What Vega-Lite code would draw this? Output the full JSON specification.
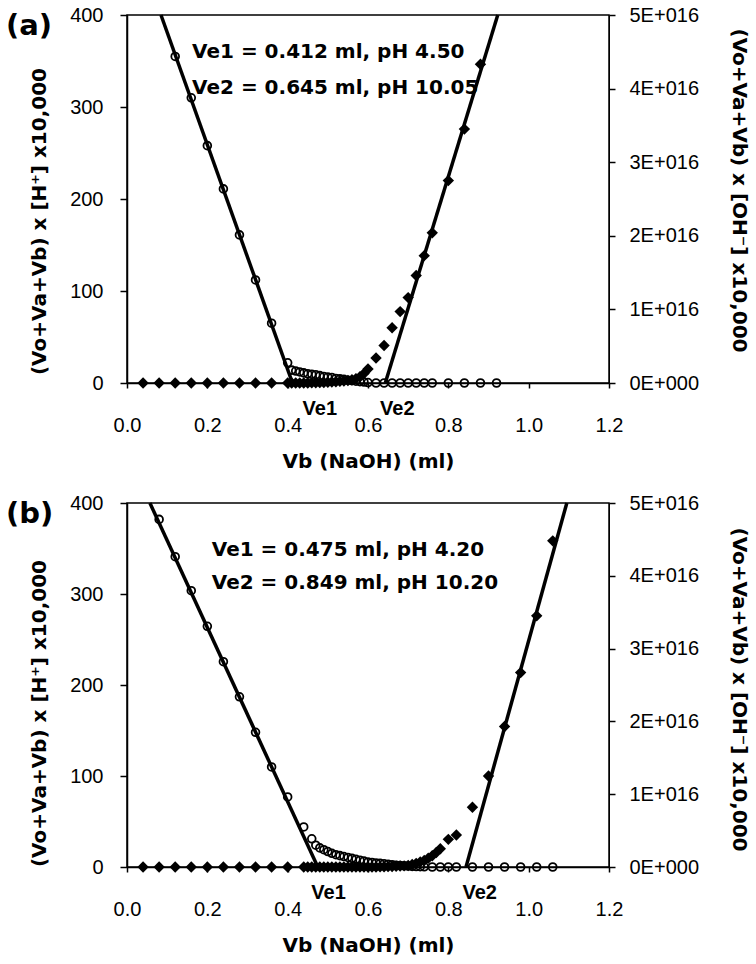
{
  "$schema": "https://vega.github.io/schema/vega-lite/v6.json",
  "background": "white",
  "padding": {"left": 5, "top": 4, "right": 5, "bottom": 0},
  "bounds": "flush",
  "spacing": 120,
  "config": {
    "view": {"stroke": "black", "strokeWidth": 1.5},
    "axis": {"grid": false, "domainColor": "black", "domainWidth": 1.5, "tickColor": "black", "tickWidth": 1.5, "labelColor": "black", "labelFont": "Liberation Sans", "labelFontSize": 20, "labelFlush": false, "labelOverlap": false, "titleColor": "black", "titleFont": "DejaVu Sans", "titleFontSize": 20, "titleFontWeight": "bold"},
    "title": {"font": "DejaVu Sans", "fontSize": 29, "fontWeight": "bold", "color": "black", "anchor": "start", "frame": "group", "offset": 0}
  },
  "datasets": {
    "a_h": [
      {"vb": 0.12, "val": 355}, {"vb": 0.16, "val": 310}, {"vb": 0.20, "val": 258}, {"vb": 0.24, "val": 211}, {"vb": 0.28, "val": 161}, {"vb": 0.32, "val": 112}, {"vb": 0.36, "val": 65}, {"vb": 0.40, "val": 22},
      {"vb": 0.41, "val": 14}, {"vb": 0.42, "val": 13}, {"vb": 0.43, "val": 12}, {"vb": 0.44, "val": 11}, {"vb": 0.45, "val": 10}, {"vb": 0.46, "val": 9.5}, {"vb": 0.47, "val": 9}, {"vb": 0.48, "val": 8}, {"vb": 0.49, "val": 7}, {"vb": 0.50, "val": 6.5},
      {"vb": 0.51, "val": 6}, {"vb": 0.52, "val": 5}, {"vb": 0.53, "val": 4.5}, {"vb": 0.54, "val": 4}, {"vb": 0.55, "val": 3}, {"vb": 0.56, "val": 2.5}, {"vb": 0.57, "val": 2}, {"vb": 0.58, "val": 1.5}, {"vb": 0.59, "val": 1}, {"vb": 0.60, "val": 0.5},
      {"vb": 0.62, "val": 0}, {"vb": 0.64, "val": 0}, {"vb": 0.66, "val": 0}, {"vb": 0.68, "val": 0}, {"vb": 0.70, "val": 0}, {"vb": 0.72, "val": 0}, {"vb": 0.74, "val": 0}, {"vb": 0.76, "val": 0}, {"vb": 0.80, "val": 0}, {"vb": 0.84, "val": 0}, {"vb": 0.88, "val": 0}, {"vb": 0.92, "val": 0}
    ],
    "a_oh": [
      {"vb": 0.04, "val": 0}, {"vb": 0.08, "val": 0}, {"vb": 0.12, "val": 0}, {"vb": 0.16, "val": 0}, {"vb": 0.20, "val": 0}, {"vb": 0.24, "val": 0}, {"vb": 0.28, "val": 0}, {"vb": 0.32, "val": 0}, {"vb": 0.36, "val": 0}, {"vb": 0.40, "val": 0},
      {"vb": 0.41, "val": 0}, {"vb": 0.42, "val": 0}, {"vb": 0.43, "val": 0}, {"vb": 0.44, "val": 0}, {"vb": 0.45, "val": 0}, {"vb": 0.46, "val": 2e13}, {"vb": 0.47, "val": 3e13}, {"vb": 0.48, "val": 5e13}, {"vb": 0.49, "val": 7e13}, {"vb": 0.50, "val": 1e14},
      {"vb": 0.51, "val": 1.3e14}, {"vb": 0.52, "val": 1.7e14}, {"vb": 0.53, "val": 2.2e14}, {"vb": 0.54, "val": 2.8e14}, {"vb": 0.55, "val": 3.5e14}, {"vb": 0.56, "val": 4.5e14}, {"vb": 0.57, "val": 6e14}, {"vb": 0.58, "val": 8.5e14}, {"vb": 0.59, "val": 1.3e15}, {"vb": 0.60, "val": 1.9e15},
      {"vb": 0.62, "val": 3.4e15}, {"vb": 0.64, "val": 5.1e15}, {"vb": 0.66, "val": 7.5e15}, {"vb": 0.68, "val": 9.7e15}, {"vb": 0.70, "val": 1.16e16}, {"vb": 0.72, "val": 1.46e16}, {"vb": 0.74, "val": 1.73e16}, {"vb": 0.76, "val": 2.04e16}, {"vb": 0.80, "val": 2.75e16}, {"vb": 0.84, "val": 3.45e16}, {"vb": 0.88, "val": 4.33e16}
    ],
    "a_lineL": [{"vb": 0.0846, "val": 400}, {"vb": 0.412, "val": 0}],
    "a_lineR": [{"vb": 0.643, "val": 0}, {"vb": 0.923, "val": 5e16}],
    "a_txt": [
      {"vb": 0.162, "val": 353, "label": "Ve1 = 0.412 ml, pH 4.50"},
      {"vb": 0.162, "val": 314, "label": "Ve2 = 0.645 ml, pH 10.05"}
    ],
    "a_ve": [
      {"vb": 0.437, "val": -35, "label": "Ve1"},
      {"vb": 0.630, "val": -35, "label": "Ve2"}
    ],
    "b_h": [
      {"vb": 0.08, "val": 382}, {"vb": 0.12, "val": 341}, {"vb": 0.16, "val": 303.6}, {"vb": 0.20, "val": 264.5}, {"vb": 0.24, "val": 225.6}, {"vb": 0.28, "val": 187}, {"vb": 0.32, "val": 148}, {"vb": 0.36, "val": 110}, {"vb": 0.40, "val": 77}, {"vb": 0.44, "val": 44},
      {"vb": 0.46, "val": 31}, {"vb": 0.47, "val": 24}, {"vb": 0.48, "val": 21}, {"vb": 0.49, "val": 19}, {"vb": 0.50, "val": 17}, {"vb": 0.51, "val": 15}, {"vb": 0.52, "val": 13.5}, {"vb": 0.53, "val": 12.5}, {"vb": 0.54, "val": 11.5}, {"vb": 0.55, "val": 10.5},
      {"vb": 0.56, "val": 9.5}, {"vb": 0.57, "val": 8.5}, {"vb": 0.58, "val": 7.5}, {"vb": 0.59, "val": 6.5}, {"vb": 0.60, "val": 5.5}, {"vb": 0.61, "val": 5}, {"vb": 0.62, "val": 4.5}, {"vb": 0.63, "val": 4}, {"vb": 0.64, "val": 3.5}, {"vb": 0.65, "val": 3},
      {"vb": 0.66, "val": 2.5}, {"vb": 0.67, "val": 2}, {"vb": 0.68, "val": 1.6}, {"vb": 0.69, "val": 1.3}, {"vb": 0.70, "val": 1}, {"vb": 0.71, "val": 0.7}, {"vb": 0.72, "val": 0.5}, {"vb": 0.73, "val": 0.3}, {"vb": 0.74, "val": 0.2},
      {"vb": 0.76, "val": 0}, {"vb": 0.78, "val": 0}, {"vb": 0.80, "val": 0}, {"vb": 0.82, "val": 0}, {"vb": 0.86, "val": 0}, {"vb": 0.90, "val": 0}, {"vb": 0.94, "val": 0}, {"vb": 0.98, "val": 0}, {"vb": 1.02, "val": 0}, {"vb": 1.06, "val": 0}
    ],
    "b_oh": [
      {"vb": 0.04, "val": 0}, {"vb": 0.08, "val": 0}, {"vb": 0.12, "val": 0}, {"vb": 0.16, "val": 0}, {"vb": 0.20, "val": 0}, {"vb": 0.24, "val": 0}, {"vb": 0.28, "val": 0}, {"vb": 0.32, "val": 0}, {"vb": 0.36, "val": 0}, {"vb": 0.40, "val": 0}, {"vb": 0.44, "val": 0},
      {"vb": 0.45, "val": 0}, {"vb": 0.46, "val": 0}, {"vb": 0.47, "val": 0}, {"vb": 0.48, "val": 0}, {"vb": 0.49, "val": 0}, {"vb": 0.50, "val": 0}, {"vb": 0.51, "val": 0}, {"vb": 0.52, "val": 0}, {"vb": 0.53, "val": 0}, {"vb": 0.54, "val": 0},
      {"vb": 0.55, "val": 0}, {"vb": 0.56, "val": 0}, {"vb": 0.57, "val": 0}, {"vb": 0.58, "val": 0}, {"vb": 0.59, "val": 0}, {"vb": 0.60, "val": 0}, {"vb": 0.61, "val": 0}, {"vb": 0.62, "val": 0}, {"vb": 0.63, "val": 2e13}, {"vb": 0.64, "val": 3e13},
      {"vb": 0.65, "val": 5e13}, {"vb": 0.66, "val": 7e13}, {"vb": 0.67, "val": 1e14}, {"vb": 0.68, "val": 1.3e14}, {"vb": 0.69, "val": 1.6e14}, {"vb": 0.70, "val": 2e14}, {"vb": 0.71, "val": 3.5e14}, {"vb": 0.72, "val": 5e14}, {"vb": 0.73, "val": 7e14}, {"vb": 0.74, "val": 9e14},
      {"vb": 0.75, "val": 1.2e15}, {"vb": 0.76, "val": 1.55e15}, {"vb": 0.77, "val": 2e15}, {"vb": 0.78, "val": 2.5e15}, {"vb": 0.80, "val": 3.8e15}, {"vb": 0.82, "val": 4.4e15}, {"vb": 0.86, "val": 8.2e15}, {"vb": 0.90, "val": 1.25e16}, {"vb": 0.94, "val": 1.93e16}, {"vb": 0.98, "val": 2.67e16}, {"vb": 1.02, "val": 3.45e16}, {"vb": 1.06, "val": 4.48e16}
    ],
    "b_lineL": [{"vb": 0.057, "val": 400}, {"vb": 0.475, "val": 0}],
    "b_lineR": [{"vb": 0.844, "val": 0}, {"vb": 1.095, "val": 5e16}],
    "b_txt": [
      {"vb": 0.211, "val": 342, "label": "Ve1 = 0.475 ml, pH 4.20"},
      {"vb": 0.211, "val": 305.5, "label": "Ve2 = 0.849 ml, pH 10.20"}
    ],
    "b_ve": [
      {"vb": 0.459, "val": -35, "label": "Ve1"},
      {"vb": 0.835, "val": -35, "label": "Ve2"}
    ]
  },
  "vconcat": [
    {
      "width": 482,
      "height": 368,
      "title": {"text": "(a)", "dx": -121, "dy": 40},
      "layer": [
        {
          "encoding": {
            "x": {"field": "vb", "type": "quantitative", "scale": {"domain": [0, 1.2], "nice": false}, "axis": {"values": [0, 0.2, 0.4, 0.6, 0.8, 1, 1.2], "format": ".1f", "tickSize": 5, "labelPadding": 27, "title": "Vb (NaOH) (ml)", "titlePadding": 16}},
            "y": {"field": "val", "type": "quantitative", "scale": {"domain": [0, 400], "nice": false}, "axis": {"orient": "left", "values": [0, 100, 200, 300, 400], "tickSize": 7, "labelPadding": 17, "title": "(Vo+Va+Vb) x [H⁺] x10,000", "titlePadding": 20, "titleY": 206}}
          },
          "layer": [
            {"data": {"name": "a_lineL"}, "mark": {"type": "line", "color": "black", "strokeWidth": 3.5}},
            {"data": {"name": "a_h"}, "mark": {"type": "point", "shape": "circle", "filled": false, "stroke": "black", "strokeWidth": 1.8, "size": 60, "opacity": 1}},
            {"data": {"name": "a_txt"}, "mark": {"type": "text", "align": "left", "baseline": "alphabetic", "font": "DejaVu Sans", "fontWeight": "bold", "fontSize": 20, "color": "black"}, "encoding": {"text": {"field": "label"}}},
            {"data": {"name": "a_ve"}, "mark": {"type": "text", "align": "left", "baseline": "alphabetic", "font": "Liberation Sans", "fontWeight": "bold", "fontSize": 20, "color": "black"}, "encoding": {"text": {"field": "label"}}}
          ]
        },
        {
          "encoding": {
            "x": {"field": "vb", "type": "quantitative", "scale": {"domain": [0, 1.2], "nice": false}, "axis": {"values": [0, 0.2, 0.4, 0.6, 0.8, 1, 1.2], "format": ".1f", "tickSize": 5, "labelPadding": 27, "title": "Vb (NaOH) (ml)", "titlePadding": 16}},
            "y": {"field": "val", "type": "quantitative", "scale": {"domain": [0, 5e16], "nice": false}, "axis": {"orient": "right", "values": [0, 1e16, 2e16, 3e16, 4e16, 5e16], "labelExpr": "datum.value == 0 ? '0E+000' : format(datum.value / 1e16, 'd') + 'E+016'", "tickSize": 6, "labelPadding": 14, "title": "(Vo+Va+Vb) x [OH⁻] x10,000", "titlePadding": 30, "titleY": 175, "domainWidth": 1}}
          },
          "layer": [
            {"data": {"name": "a_oh"}, "mark": {"type": "point", "shape": "diamond", "filled": true, "color": "black", "size": 130, "opacity": 1}},
            {"data": {"name": "a_lineR"}, "mark": {"type": "line", "color": "black", "strokeWidth": 3.5}}
          ]
        }
      ],
      "resolve": {"scale": {"y": "independent"}}
    },
    {
      "width": 482,
      "height": 364,
      "title": {"text": "(b)", "dx": -121, "dy": 40},
      "layer": [
        {
          "encoding": {
            "x": {"field": "vb", "type": "quantitative", "scale": {"domain": [0, 1.2], "nice": false}, "axis": {"values": [0, 0.2, 0.4, 0.6, 0.8, 1, 1.2], "format": ".1f", "tickSize": 5, "labelPadding": 27, "title": "Vb (NaOH) (ml)", "titlePadding": 16}},
            "y": {"field": "val", "type": "quantitative", "scale": {"domain": [0, 400], "nice": false}, "axis": {"orient": "left", "values": [0, 100, 200, 300, 400], "tickSize": 7, "labelPadding": 17, "title": "(Vo+Va+Vb) x [H⁺] x10,000", "titlePadding": 20, "titleY": 210}}
          },
          "layer": [
            {"data": {"name": "b_lineL"}, "mark": {"type": "line", "color": "black", "strokeWidth": 3.5}},
            {"data": {"name": "b_h"}, "mark": {"type": "point", "shape": "circle", "filled": false, "stroke": "black", "strokeWidth": 1.8, "size": 60, "opacity": 1}},
            {"data": {"name": "b_txt"}, "mark": {"type": "text", "align": "left", "baseline": "alphabetic", "font": "DejaVu Sans", "fontWeight": "bold", "fontSize": 20, "color": "black"}, "encoding": {"text": {"field": "label"}}},
            {"data": {"name": "b_ve"}, "mark": {"type": "text", "align": "left", "baseline": "alphabetic", "font": "Liberation Sans", "fontWeight": "bold", "fontSize": 20, "color": "black"}, "encoding": {"text": {"field": "label"}}}
          ]
        },
        {
          "encoding": {
            "x": {"field": "vb", "type": "quantitative", "scale": {"domain": [0, 1.2], "nice": false}, "axis": {"values": [0, 0.2, 0.4, 0.6, 0.8, 1, 1.2], "format": ".1f", "tickSize": 5, "labelPadding": 27, "title": "Vb (NaOH) (ml)", "titlePadding": 16}},
            "y": {"field": "val", "type": "quantitative", "scale": {"domain": [0, 5e16], "nice": false}, "axis": {"orient": "right", "values": [0, 1e16, 2e16, 3e16, 4e16, 5e16], "labelExpr": "datum.value == 0 ? '0E+000' : format(datum.value / 1e16, 'd') + 'E+016'", "tickSize": 6, "labelPadding": 14, "title": "(Vo+Va+Vb) x [OH⁻] x10,000", "titlePadding": 30, "titleY": 186, "domainWidth": 1}}
          },
          "layer": [
            {"data": {"name": "b_oh"}, "mark": {"type": "point", "shape": "diamond", "filled": true, "color": "black", "size": 130, "opacity": 1}},
            {"data": {"name": "b_lineR"}, "mark": {"type": "line", "color": "black", "strokeWidth": 3.5}}
          ]
        }
      ],
      "resolve": {"scale": {"y": "independent"}}
    }
  ]
}
